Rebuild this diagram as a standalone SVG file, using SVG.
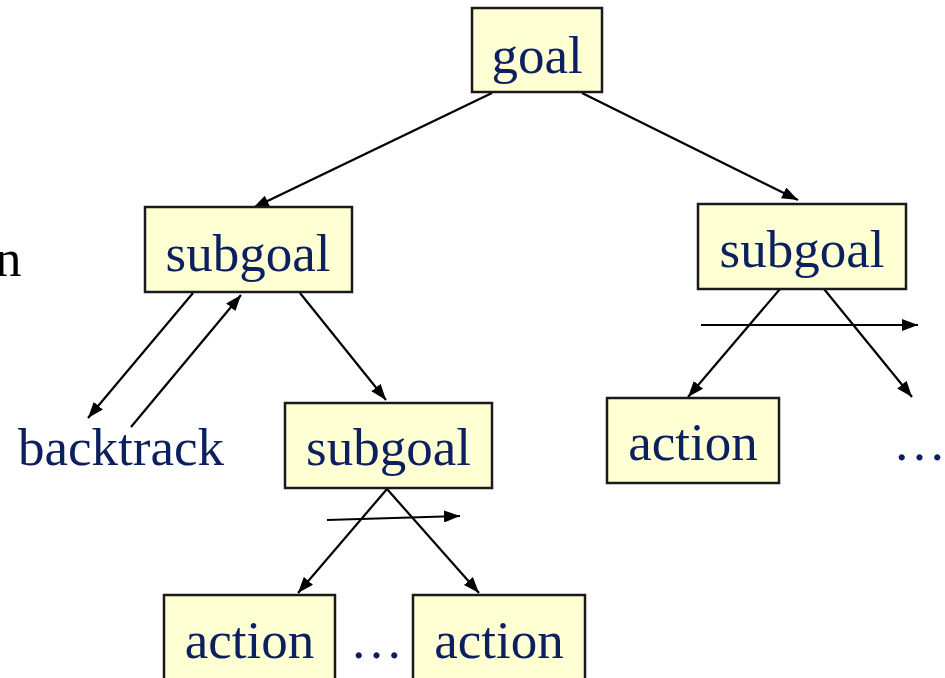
<svg xmlns="http://www.w3.org/2000/svg" width="945" height="678" viewBox="0 0 945 678">
<style>
.box{fill:#ffffd4;stroke:#1a1a1a;stroke-width:2.5}
.t{font-family:"Liberation Serif","Times New Roman",serif;font-size:53px;fill:#0c1f5e}
.m{text-anchor:middle}
.c{stroke:#000;stroke-width:2.2;fill:none;marker-end:url(#ah)}
</style>
<defs>
<marker id="ah" viewBox="0 0 16 12" refX="16" refY="6" markerWidth="16" markerHeight="12" orient="auto" markerUnits="userSpaceOnUse">
<path d="M0,0 L16,6 L0,12 z" fill="#000"/>
</marker>
</defs>
<rect width="945" height="678" fill="#fff"/>
<text x="-5" y="276" class="t" style="fill:#000">n</text>
<g id="connectors">
<line class="c" x1="492" y1="93" x2="253" y2="208"/>
<line class="c" x1="582" y1="93" x2="798" y2="200"/>
<line class="c" x1="193" y1="293" x2="88" y2="418"/>
<line class="c" x1="131" y1="427" x2="241" y2="295"/>
<line class="c" x1="300" y1="293" x2="386" y2="400"/>
<line class="c" x1="387" y1="489" x2="298" y2="593"/>
<line class="c" x1="387" y1="489" x2="479" y2="593"/>
<line class="c" x1="327" y1="520" x2="460" y2="516"/>
<line class="c" x1="780" y1="289" x2="688" y2="397"/>
<line class="c" x1="824" y1="289" x2="912" y2="397"/>
<line class="c" x1="701" y1="325" x2="918" y2="325"/>
</g>
<g id="goal">
<rect class="box" x="472" y="8" width="130" height="84"/>
<text class="t m" x="537" y="73">goal</text>
</g>
<g id="subgoal1">
<rect class="box" x="145" y="207" width="207" height="85"/>
<text class="t m" x="248" y="271">subgoal</text>
</g>
<g id="subgoal2">
<rect class="box" x="698" y="204" width="208" height="85"/>
<text class="t m" x="802" y="267">subgoal</text>
</g>
<g id="subgoal3">
<rect class="box" x="285" y="403" width="207" height="85"/>
<text class="t m" x="388.5" y="465">subgoal</text>
</g>
<g id="backtrack">
<text class="t" x="18" y="465">backtrack</text>
</g>
<g id="action1">
<rect class="box" x="607" y="398" width="172" height="85"/>
<text class="t m" x="693" y="460">action</text>
</g>
<g id="dots1">
<text class="t" x="893" y="460">…</text>
</g>
<g id="action2">
<rect class="box" x="164" y="595" width="171" height="90"/>
<text class="t m" x="249.5" y="658">action</text>
</g>
<g id="dots2">
<text class="t" x="350" y="658">…</text>
</g>
<g id="action3">
<rect class="box" x="413" y="595" width="172" height="90"/>
<text class="t m" x="499" y="658">action</text>
</g>
</svg>
